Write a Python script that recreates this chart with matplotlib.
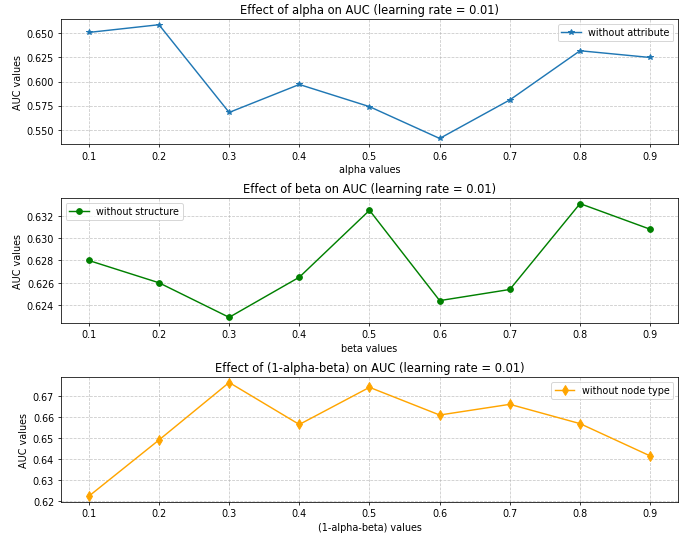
import matplotlib
matplotlib.use('Agg')
import matplotlib.pyplot as plt

params = [0.1, 0.2, 0.3, 0.4, 0.5, 0.6, 0.7, 0.8, 0.9]
auc_alpha = [0.651, 0.659, 0.568, 0.597, 0.574, 0.541, 0.581, 0.632, 0.625]
auc_beta = [0.6280, 0.6260, 0.6229, 0.6265, 0.6325, 0.6244, 0.6254, 0.6331, 0.6308]
auc_gamma = [0.6223, 0.6491, 0.6765, 0.6565, 0.6742, 0.6610, 0.6661, 0.6569, 0.6415]

fig, axes = plt.subplots(3, 1, figsize=(10, 7.75), dpi=69)

axes[0].plot(params, auc_alpha, marker='*', label='without attribute')
axes[0].set_title('Effect of alpha on AUC (learning rate = 0.01)')
axes[0].set_xlabel('alpha values')

axes[1].plot(params, auc_beta, marker='o', color='green', label='without structure')
axes[1].set_title('Effect of beta on AUC (learning rate = 0.01)')
axes[1].set_xlabel('beta values')

axes[2].plot(params, auc_gamma, marker='d', markersize=7, color='orange', label='without node type')
axes[2].set_title('Effect of (1-alpha-beta) on AUC (learning rate = 0.01)')
axes[2].set_xlabel('(1-alpha-beta) values')

for ax in axes:
    ax.set_ylabel('AUC values')
    ax.set_xticks(params)
    ax.grid(True, linestyle='--', alpha=0.7)
    ax.legend()

plt.subplots_adjust(left=0.088, right=0.983, top=0.963, bottom=0.060, hspace=0.43)
plt.savefig('out.png')
